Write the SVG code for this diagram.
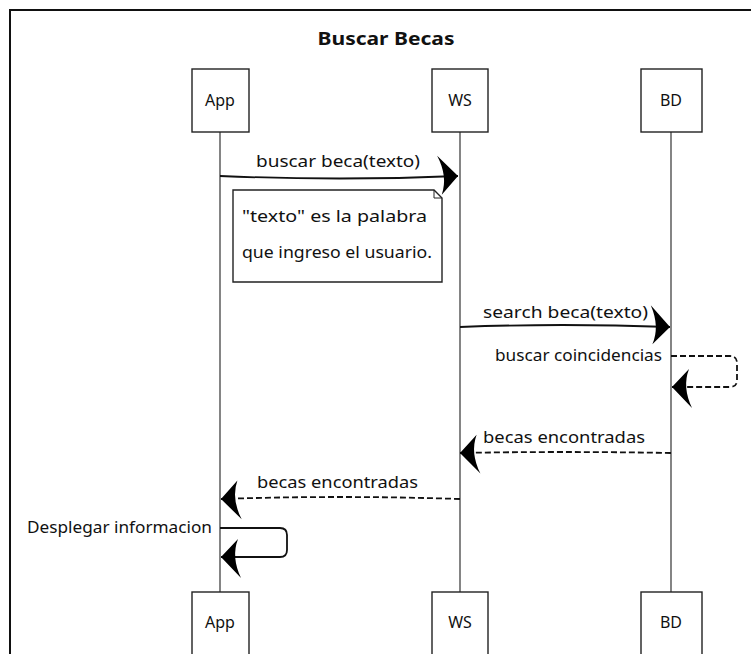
<svg xmlns="http://www.w3.org/2000/svg" width="751" height="654" viewBox="0 0 751 654">
<style>
text{font-family:"Noto Sans","Liberation Sans",sans-serif;fill:#111;}
.lbl{font-size:16px;}
.act{font-size:16px;text-anchor:middle;}
.box{fill:#fff;stroke:#222;stroke-width:1.4;}
.life{fill:none;stroke:#333;stroke-width:1.2;}
.msg{fill:none;stroke:#111;stroke-width:1.8;}
.dash{fill:none;stroke:#111;stroke-width:1.8;stroke-dasharray:6 3;}
</style>
<defs>
<marker id="ah" markerUnits="userSpaceOnUse" viewBox="-22 -24 24 46" refX="0" refY="0" markerWidth="24" markerHeight="46" orient="auto">
<path d="M0,0 L-20,-21 Q-10,0 -17,18 Z" fill="#000"/>
</marker>
</defs>
<rect width="751" height="654" fill="#fff"/>
<path d="M10,660 L10,10 L760,10" fill="none" stroke="#111" stroke-width="2"/>
<text x="386" y="45" font-size="18" font-weight="bold" text-anchor="middle" textLength="137" lengthAdjust="spacingAndGlyphs">Buscar Becas</text>

<g id="app">
<line class="life" x1="220" y1="132" x2="220" y2="592"/>
<rect class="box" x="192" y="69" width="57" height="63"/>
<text class="act" x="220" y="106">App</text>
<rect class="box" x="192" y="592" width="57" height="70"/>
<text class="act" x="220" y="628">App</text>
</g>
<g id="ws">
<line class="life" x1="460" y1="132" x2="460" y2="592"/>
<rect class="box" x="432" y="69" width="56" height="63"/>
<text class="act" x="460" y="106">WS</text>
<rect class="box" x="432" y="592" width="56" height="70"/>
<text class="act" x="460" y="628">WS</text>
</g>
<g id="bd">
<line class="life" x1="671" y1="132" x2="671" y2="592"/>
<rect class="box" x="641" y="69" width="61" height="63"/>
<text class="act" x="671" y="106">BD</text>
<rect class="box" x="641" y="592" width="61" height="70"/>
<text class="act" x="671" y="628">BD</text>
</g>

<g id="note">
<path d="M233,190 L434,190 L442,198 L442,282 L233,282 Z" fill="#fff" stroke="#222" stroke-width="1.4"/>
<path d="M434,190 L434,198 L442,198" fill="none" stroke="#222" stroke-width="1"/>
<text class="lbl" x="242" y="222" textLength="185" lengthAdjust="spacingAndGlyphs">"texto" es la palabra</text>
<text class="lbl" x="242" y="258" textLength="190" lengthAdjust="spacingAndGlyphs">que ingreso el usuario.</text>
</g>

<g id="connectors">
<path class="msg" d="M220,176 Q340,181 458,176" marker-end="url(#ah)"/>
<text class="lbl" x="256" y="167" textLength="164" lengthAdjust="spacingAndGlyphs">buscar beca(texto)</text>

<path class="msg" d="M460,327 Q560,323 670,327" marker-end="url(#ah)"/>
<text class="lbl" x="483" y="318" textLength="165" lengthAdjust="spacingAndGlyphs">search beca(texto)</text>

<path class="dash" d="M671,356 L730,356 Q737,356 737,363 L737,380 Q737,387 730,387 L672,387" marker-end="url(#ah)"/>
<text class="lbl" x="495" y="361" textLength="167" lengthAdjust="spacingAndGlyphs">buscar coincidencias</text>

<path class="dash" d="M671,453 Q560,451 460,453" marker-end="url(#ah)"/>
<text class="lbl" x="483" y="443" textLength="162" lengthAdjust="spacingAndGlyphs">becas encontradas</text>

<path class="dash" d="M460,499 Q340,495 221,499" marker-end="url(#ah)"/>
<text class="lbl" x="257" y="488" textLength="161" lengthAdjust="spacingAndGlyphs">becas encontradas</text>

<path class="msg" d="M220,528 L280,528 Q287,528 287,535 L287,550 Q287,557 280,557 L221,557" marker-end="url(#ah)"/>
<text class="lbl" x="27" y="533" textLength="185" lengthAdjust="spacingAndGlyphs">Desplegar informacion</text>
</g>
</svg>
